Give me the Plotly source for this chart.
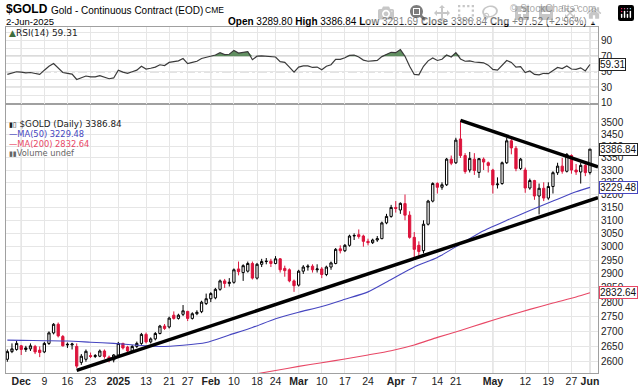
import numpy as np
import pandas as pd
import plotly.graph_objects as go

# ---------------- data ----------------
holidays = ["2024-11-28", "2024-12-25", "2025-01-01", "2025-01-09", "2025-01-20",
            "2025-02-17", "2025-04-18", "2025-05-26"]
dates = [d.strftime("%Y-%m-%d") for d in pd.bdate_range("2024-11-26", "2025-06-02")
         if d.strftime("%Y-%m-%d") not in holidays]

opens = [2608, 2633, 2640, 2652, 2640, 2642, 2650, 2638, 2632, 2660, 2695, 2724, 2683, 2655, 2655,
         2650, 2598, 2608, 2620, 2617, 2618, 2635, 2615, 2606, 2622, 2660, 2648, 2635, 2650, 2660,
         2690, 2665, 2675, 2693, 2718, 2715, 2755, 2744, 2758, 2768, 2744, 2760, 2767, 2795, 2812,
         2815, 2845, 2875, 2866, 2870, 2918, 2905, 2910, 2938, 2885, 2935, 2945, 2946, 2938, 2955,
         2920, 2915, 2875, 2860, 2910, 2925, 2928, 2915, 2918, 2898, 2925, 2938, 2992, 2985, 3005,
         3040, 3045, 3040, 3020, 3015, 3025, 3030, 3090, 3115, 3150, 3140, 3165, 3120, 3035, 3005,
         2985, 3085, 3175, 3245, 3230, 3240, 3345, 3330, 3430, 3360, 3300, 3345, 3290, 3345, 3330,
         3300, 3240, 3245, 3330, 3422, 3390, 3306, 3300, 3227, 3257, 3195, 3226, 3187, 3233, 3289,
         3316, 3295, 3360, 3300, 3292, 3319, 3289.80]
highs = [2640, 2660, 2668, 2655, 2652, 2660, 2655, 2650, 2665, 2700, 2728, 2730, 2688, 2663, 2662,
         2660, 2625, 2640, 2630, 2625, 2640, 2640, 2620, 2625, 2665, 2662, 2652, 2655, 2666, 2695,
         2696, 2680, 2698, 2722, 2725, 2750, 2768, 2760, 2790, 2770, 2765, 2772, 2805, 2830, 2835,
         2850, 2880, 2882, 2885, 2920, 2945, 2935, 2945, 2945, 2940, 2955, 2958, 2955, 2965, 2958,
         2930, 2920, 2880, 2915, 2932, 2935, 2935, 2935, 2925, 2930, 2945, 2995, 3005, 3010, 3045,
         3050, 3065, 3045, 3030, 3030, 3040, 3095, 3125, 3160, 3175, 3170, 3201, 3135, 3055, 3020,
         3100, 3180, 3250, 3250, 3250, 3350, 3360, 3435, 3509, 3370, 3375, 3370, 3350, 3352, 3335,
         3305, 3270, 3335, 3435, 3440, 3400, 3350, 3310, 3265, 3260, 3245, 3250, 3250, 3295, 3330,
         3350, 3370, 3365, 3325, 3330, 3325, 3386.84]
lows = [2600, 2628, 2636, 2622, 2632, 2635, 2625, 2615, 2628, 2655, 2690, 2680, 2650, 2645, 2640,
        2580, 2590, 2600, 2612, 2612, 2615, 2610, 2598, 2598, 2618, 2640, 2625, 2630, 2645, 2655,
        2660, 2660, 2670, 2690, 2705, 2710, 2740, 2740, 2752, 2735, 2740, 2755, 2762, 2790, 2800,
        2810, 2840, 2850, 2855, 2865, 2895, 2875, 2905, 2880, 2880, 2925, 2935, 2925, 2935, 2905,
        2890, 2870, 2836, 2855, 2900, 2912, 2905, 2905, 2885, 2892, 2915, 2935, 2975, 2980, 3000,
        3025, 3030, 3000, 3005, 3010, 3018, 3028, 3085, 3110, 3130, 3125, 3100, 3030, 2960, 2965,
        2975, 3080, 3170, 3205, 3220, 3235, 3320, 3325, 3350, 3285, 3290, 3280, 3268, 3300, 3290,
        3205, 3225, 3240, 3325, 3365, 3295, 3300, 3208, 3220, 3180, 3123, 3175, 3180, 3205, 3280,
        3285, 3290, 3285, 3280, 3245, 3275, 3281.69]
closes = [2633, 2642, 2660, 2640, 2645, 2652, 2632, 2630, 2660, 2695, 2724, 2685, 2652, 2657, 2658,
          2586, 2618, 2634, 2617, 2620, 2635, 2617, 2606, 2622, 2660, 2645, 2635, 2650, 2660, 2690,
          2665, 2675, 2693, 2718, 2710, 2745, 2744, 2755, 2770, 2744, 2760, 2765, 2800, 2812, 2830,
          2845, 2875, 2866, 2870, 2915, 2908, 2930, 2938, 2885, 2935, 2945, 2946, 2938, 2955, 2915,
          2912, 2875, 2858, 2910, 2925, 2928, 2915, 2918, 2898, 2925, 2940, 2990, 2985, 3005, 3040,
          3042, 3038, 3020, 3015, 3025, 3030, 3090, 3115, 3150, 3146, 3166, 3120, 3035, 2990, 2982,
          3085, 3175, 3245, 3230, 3240, 3345, 3328, 3425, 3360, 3294, 3348, 3298, 3347, 3333, 3319,
          3239, 3243, 3330, 3422, 3392, 3306, 3345, 3227, 3257, 3195, 3226, 3187, 3233, 3289, 3316,
          3295, 3365, 3300, 3292, 3319, 3289.32, 3386.84]

rsi = [46.5, 48, 50, 49.5, 48.5, 49, 47.5, 46.5, 52, 57, 60.5, 55, 49, 48, 47,
       40, 42, 44.5, 43.5, 43.5, 45, 42.5, 41, 42, 52, 49.5, 48, 50, 52, 57,
       53.5, 54.5, 56, 59, 58, 62, 63, 64, 67, 60.5, 62, 63.5, 67, 68.5, 70,
       71.5, 74.5, 72, 72.5, 77.5, 74, 75, 76, 65.5, 70, 70.5, 70, 69, 69, 63,
       62, 56, 49.5, 56, 57.5, 57.5, 55.5, 56, 52.5, 57, 59, 66, 66, 68, 71,
       71.5, 69, 65, 63.5, 64, 64.5, 69.5, 72.5, 75, 74.5, 78.5, 70, 57, 46.5, 46,
       57, 64, 67.7, 64.5, 66, 71.5, 69, 74.6, 66.5, 63.5, 64, 62.5, 62, 61.5, 58.5,
       53, 52, 59, 64.5, 62, 56, 56.5, 49, 51, 46.5, 46, 48, 47.5, 51.5, 55.5,
       54, 57.5, 53.5, 53, 55, 51, 59.31]

ma50_dates = ["2024-11-26", "2024-12-02", "2024-12-09", "2024-12-16", "2024-12-23", "2024-12-31",
              "2025-01-08", "2025-01-16", "2025-01-24", "2025-01-31", "2025-02-07", "2025-02-14",
              "2025-02-24", "2025-03-03", "2025-03-10", "2025-03-17", "2025-03-24", "2025-03-31",
              "2025-04-07", "2025-04-14", "2025-04-22", "2025-04-29", "2025-05-06", "2025-05-13",
              "2025-05-20", "2025-05-28", "2025-06-02"]
ma50_vals = [2671, 2670, 2669, 2668, 2664, 2660, 2654, 2650, 2654, 2663, 2688, 2713, 2743, 2765,
             2785, 2810, 2836, 2880, 2925, 2960, 3010, 3060, 3100, 3138, 3175, 3212, 3229.48]
ma200_dates = ["2025-02-14", "2025-02-24", "2025-03-03", "2025-03-10", "2025-03-17", "2025-03-24",
               "2025-03-31", "2025-04-07", "2025-04-14", "2025-04-22", "2025-04-29", "2025-05-06",
               "2025-05-13", "2025-05-20", "2025-05-28", "2025-06-02"]
ma200_vals = [2559, 2572, 2585, 2597, 2609, 2622, 2636, 2655, 2680, 2703, 2728, 2752, 2775, 2797,
              2818, 2832.64]

trend_upper_dates = ["2025-04-22", "2025-06-02"]
trend_upper_vals = [3510, 3324]
trend_lower_dates = ["2024-12-18", "2025-06-02"]
trend_lower_vals = [2572, 3178]

tick_dates = ["2024-12-02", "2024-12-09", "2024-12-16", "2024-12-23", "2025-01-02", "2025-01-13",
              "2025-01-21", "2025-01-27", "2025-02-03", "2025-02-10", "2025-02-18", "2025-02-24",
              "2025-03-03", "2025-03-10", "2025-03-17", "2025-03-24", "2025-04-01", "2025-04-07",
              "2025-04-14", "2025-04-21", "2025-05-01", "2025-05-12", "2025-05-19", "2025-05-27",
              "2025-06-02"]
tick_text = ["<b>Dec</b>", "9", "16", "23", "<b>2025</b>", "13", "21", "27", "<b>Feb</b>", "10",
             "18", "24", "<b>Mar</b>", "10", "17", "24", "<b>Apr</b>", "7", "14", "21", "<b>May</b>",
             "12", "19", "27", "<b>Jun</b>"]
month_dates = ["2024-12-02", "2025-02-03", "2025-03-03", "2025-04-01", "2025-05-01", "2025-06-02"]
price_ticks = list(range(2600, 3501, 50))

# ---------------- geometry ----------------
W, H = 640, 387
L, R, T, B = 6, 42, 27, 14
PW, PH = W - L - R, H - T - B
split = (H - B - 103.5) / PH
XR = [-0.29, 127.74]
YR_MAIN = [np.log10(2563.9), np.log10(3584.6)]
YR_RSI = [9.1, 107.6]

pos = {d: i for i, d in enumerate(dates)}
xs = np.arange(len(dates))
o, h, l, c = map(np.array, (opens, highs, lows, closes))
prev = np.r_[c[0], c[:-1]]
is_black = c >= prev

def px(xp):
    return (xp - L) / PW

def py(yp):
    return (H - B - yp) / PH

FONT = "Liberation Sans, Arial, sans-serif"
VFONT = "DejaVu Sans, Verdana, sans-serif"
RED = "#dc143c"
BLUE = "#4646c0"
PINK = "#e84866"

fig = go.Figure()

for mask, col in ((is_black, "#000000"), (~is_black, RED)):
    fig.add_trace(go.Candlestick(
        x=xs[mask], open=o[mask], high=h[mask], low=l[mask], close=c[mask],
        increasing=dict(line=dict(color=col, width=1), fillcolor="#ffffff"),
        decreasing=dict(line=dict(color=col, width=1), fillcolor=col),
        whiskerwidth=0, showlegend=False, xaxis="x", yaxis="y", hoverinfo="skip"))

fig.add_trace(go.Scatter(x=[pos[d] for d in ma50_dates], y=ma50_vals, mode="lines",
                         line=dict(color=BLUE, width=1.1, shape="spline", smoothing=0.6),
                         showlegend=False, xaxis="x", yaxis="y", hoverinfo="skip"))
fig.add_trace(go.Scatter(x=[pos[d] for d in ma200_dates], y=ma200_vals, mode="lines",
                         line=dict(color=PINK, width=1.1, shape="spline", smoothing=0.6),
                         showlegend=False, xaxis="x", yaxis="y", hoverinfo="skip"))

def trend(dlist, vals):
    x0, x1 = pos[dlist[0]], pos[dlist[1]]
    l0, l1 = np.log(vals[0]), np.log(vals[1])
    xe = XR[1]
    ye = np.exp(l0 + (l1 - l0) * (xe - x0) / (x1 - x0))
    return [x0, xe], [vals[0], ye]

for dl, vl in ((trend_upper_dates, trend_upper_vals), (trend_lower_dates, trend_lower_vals)):
    tx, ty = trend(dl, vl)
    fig.add_trace(go.Scatter(x=tx, y=ty, mode="lines", line=dict(color="#000000", width=3.5),
                             showlegend=False, xaxis="x", yaxis="y", hoverinfo="skip"))

# RSI panel
rsi_arr = np.array(rsi)
fig.add_trace(go.Scatter(x=xs, y=np.full(len(xs), 70.0), mode="lines", line=dict(width=0),
                         showlegend=False, xaxis="x2", yaxis="y2", hoverinfo="skip"))
fig.add_trace(go.Scatter(x=xs, y=np.maximum(rsi_arr, 70.0), mode="lines", line=dict(width=0),
                         fill="tonexty", fillcolor="rgba(70,125,70,0.85)",
                         showlegend=False, xaxis="x2", yaxis="y2", hoverinfo="skip"))
fig.add_trace(go.Scatter(x=xs, y=rsi_arr, mode="lines", line=dict(color="#3a3a3a", width=1.2),
                         showlegend=False, xaxis="x2", yaxis="y2", hoverinfo="skip"))

shapes = []
for lvl, dash in ((70, "solid"), (30, "solid"), (50, "dashdot")):
    shapes.append(dict(type="line", xref="x2 domain", yref="y2", x0=0, x1=1, y0=lvl, y1=lvl,
                       line=dict(color="#8a8a8a", width=1, dash=dash), layer="below"))
for d in month_dates:
    shapes.append(dict(type="line", xref="x", yref="paper", x0=pos[d], x1=pos[d], y0=0, y1=1,
                       line=dict(color="#c4c4c4", width=1), layer="below"))

ann = []
def A(text, xp, yp, size, color="#000000", anchor="left", family=FONT):
    ann.append(dict(text=text, x=px(xp), y=py(yp), xref="paper", yref="paper", showarrow=False,
                    xanchor=anchor, yanchor="middle", font=dict(size=size, color=color, family=family)))

A("<b>$GOLD</b>", 4, 9.5, 12)
A("Gold - Continuous Contract (EOD)", 49, 10, 10)
A("CME", 203, 10, 8.5)
A("2-Jun-2025", 4, 21.5, 9.5)
A("© StockCharts.com", 598, 9, 10, color="#555555", anchor="right")
A("<b>Open</b> 3289.80 <b>High</b> 3386.84 <b>Low</b> 3281.69 <b>Close</b> 3386.84 "
  "<b>Chg</b> +97.52 (+2.96%) <span style='font-size:7px'>▲</span>", 598, 21.5, 10, anchor="right")

A("<span style='color:#3d6e3d'>▲</span>RSI(14) 59.31", 7, 33, 9, color="#222222", family=VFONT)
A("<span style='font-size:7px'>▮▯</span> $GOLD (Daily) 3386.84", 7, 124, 8.8, color="#222222",
  family=VFONT)
A("—MA(50) 3229.48", 7, 133.5, 8.3, color=BLUE, family=VFONT)
A("—MA(200) 2832.64", 7, 143.5, 8.3, color=PINK, family=VFONT)
A("<span style='font-size:7px'>▮▮</span>Volume undef", 7, 153, 8.3, color="#666666", family=VFONT)

def box(val, ref, color, logy):
    ann.append(dict(text=f"{val:.2f}", x=1, xref="paper", y=(np.log10(val) if logy else val),
                    yref=ref, xanchor="left", yanchor="middle", xshift=1, showarrow=False,
                    bordercolor=color, borderwidth=1, borderpad=0, bgcolor="#ffffff",
                    font=dict(size=10, color="#111111", family=FONT)))

box(closes[-1], "y", "#222222", True)
box(ma50_vals[-1], "y", BLUE, True)
box(ma200_vals[-1], "y", PINK, True)
box(rsi[-1], "y2", "#222222", False)

axis_common = dict(showline=True, mirror=True, linecolor="#a0a0a0", linewidth=1,
                   gridcolor="#e6e6e6", gridwidth=1, zeroline=False, ticks="", ticklen=0,
                   automargin=False)
fig.update_layout(
    width=W, height=H, margin=dict(l=L, r=R, t=T, b=B, pad=0, autoexpand=False),
    paper_bgcolor="#ffffff", plot_bgcolor="#ffffff", showlegend=False,
    font=dict(family=FONT, size=10, color="#222222"),
    xaxis=dict(domain=[0, 1], anchor="y", range=XR, tickmode="array",
               tickvals=[pos[d] for d in tick_dates], ticktext=tick_text,
               tickfont=dict(size=10.5, color="#222222"), rangeslider=dict(visible=False),
               ticklabelstandoff=-2, **axis_common),
    yaxis=dict(domain=[0, split], anchor="x", type="log", range=YR_MAIN, side="right",
               tickmode="array", tickvals=price_ticks, ticktext=[str(v) for v in price_ticks],
               tickfont=dict(size=10, color="#222222"), **axis_common),
    xaxis2=dict(domain=[0, 1], anchor="y2", matches="x", range=XR, tickmode="array",
                tickvals=[pos[d] for d in tick_dates], showticklabels=False, **axis_common),
    yaxis2=dict(domain=[split, 1], anchor="x2", range=YR_RSI, side="right", tickmode="array",
                tickvals=list(range(10, 101, 10)),
                ticktext=["10", "", "30", "", "50", "", "70", "", "90", ""],
                tickfont=dict(size=10, color="#222222"), **axis_common),
    shapes=shapes, annotations=ann,
)

fig.write_html("out.html",
               post_script="document.body.style.margin='0';document.body.style.padding='0';"
                           "document.documentElement.style.overflow='hidden';")
